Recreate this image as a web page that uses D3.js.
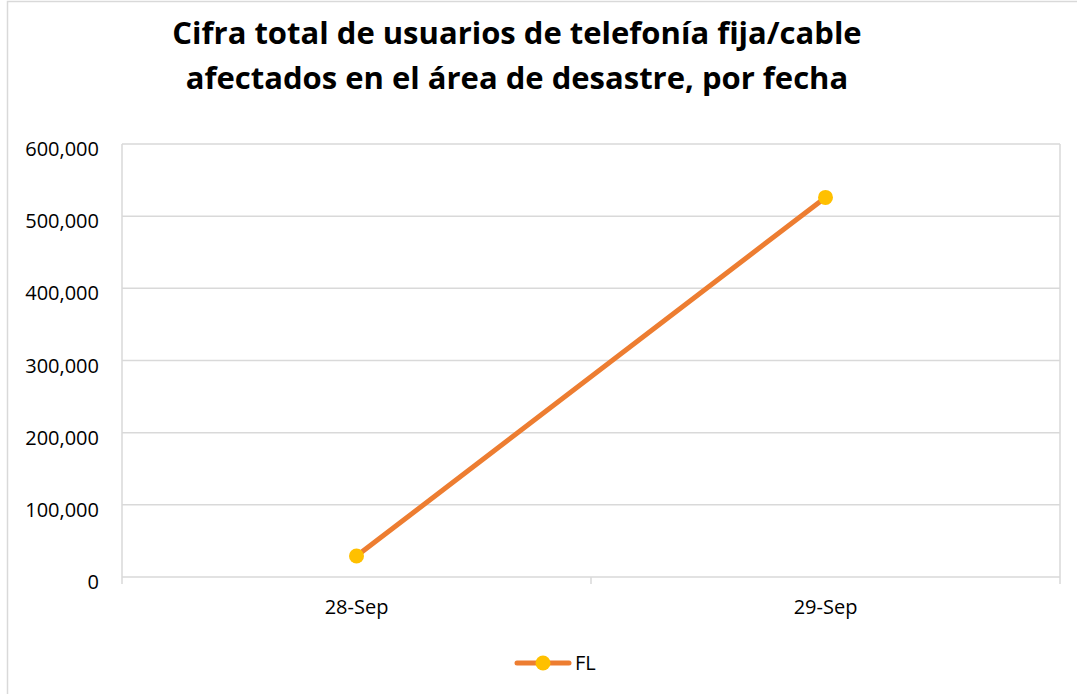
<!DOCTYPE html>
<html>
<head>
<meta charset="utf-8">
<script src="https://cdn.jsdelivr.net/npm/d3@7"></script>
<style>
  body { margin: 0; background: #fff; }
  text { font-family: "Open Sans", sans-serif; fill: #000; }
</style>
</head>
<body>
<div id="chart"></div>
<script>
const titleLines = ["Cifra total de usuarios de telefonía fija/cable", "afectados en el área de desastre, por fecha"];
const dates = ["28-Sep", "29-Sep"];
const flValues = [29000, 526000];
const yTicks = [0, 100000, 200000, 300000, 400000, 500000, 600000];
const seriesName = "FL";

const width = 1077, height = 694;
const margin = { top: 144, right: 17, bottom: 117, left: 122 };
const gridColor = "#d9d9d9";

const svg = d3.select("#chart").append("svg")
  .attr("width", width)
  .attr("height", height);

// outer chart border
svg.append("rect")
  .attr("x", 7.5).attr("y", 1.5)
  .attr("width", width).attr("height", height)
  .attr("fill", "none")
  .attr("stroke", gridColor)
  .attr("stroke-width", 1.5);

const x = d3.scaleBand()
  .domain(dates)
  .range([margin.left, width - margin.right]);

const y = d3.scaleLinear()
  .domain([0, 600000])
  .range([height - margin.bottom, margin.top]);

// title
const title = svg.append("g");
titleLines.forEach((line, i) => {
  title.append("text")
    .attr("x", 517)
    .attr("y", 44 + i * 45)
    .attr("text-anchor", "middle")
    .attr("font-weight", "bold")
    .attr("font-size", 31)
    .text(line);
});

// gridlines
svg.append("g")
  .selectAll("line")
  .data(yTicks)
  .join("line")
  .attr("x1", margin.left)
  .attr("x2", width - margin.right)
  .attr("y1", d => y(d))
  .attr("y2", d => y(d))
  .attr("stroke", gridColor)
  .attr("stroke-width", 1.5);

// plot area side borders
[margin.left, width - margin.right].forEach(xx => {
  svg.append("line")
    .attr("x1", xx).attr("x2", xx)
    .attr("y1", margin.top).attr("y2", height - margin.bottom)
    .attr("stroke", gridColor)
    .attr("stroke-width", 1.5);
});

// x tick marks at band boundaries
const bounds = dates.map(d => x(d)).concat([x(dates[dates.length - 1]) + x.bandwidth()]);
svg.append("g")
  .selectAll("line")
  .data(bounds)
  .join("line")
  .attr("x1", d => d).attr("x2", d => d)
  .attr("y1", y(0)).attr("y2", y(0) + 7)
  .attr("stroke", gridColor)
  .attr("stroke-width", 1.5);

// y labels
const fmt = d3.format(",");
svg.append("g")
  .selectAll("text")
  .data(yTicks)
  .join("text")
  .attr("x", 99)
  .attr("y", d => y(d) + 12)
  .attr("text-anchor", "end")
  .attr("font-size", 20)
  .text(d => fmt(d));

// x labels
svg.append("g")
  .selectAll("text")
  .data(dates)
  .join("text")
  .attr("x", d => x(d) + x.bandwidth() / 2)
  .attr("y", 614)
  .attr("text-anchor", "middle")
  .attr("font-size", 20)
  .text(d => d);

// series
const pts = dates.map((d, i) => ({ d, v: flValues[i] }));
const line = d3.line()
  .x(p => x(p.d) + x.bandwidth() / 2)
  .y(p => y(p.v));

svg.append("path")
  .datum(pts)
  .attr("d", line)
  .attr("fill", "none")
  .attr("stroke", "#ED7D31")
  .attr("stroke-width", 5)
  .attr("stroke-linecap", "round");

svg.append("g")
  .selectAll("circle")
  .data(pts)
  .join("circle")
  .attr("cx", p => x(p.d) + x.bandwidth() / 2)
  .attr("cy", p => y(p.v))
  .attr("r", 7.5)
  .attr("fill", "#FFC000");

// legend
const lg = svg.append("g").attr("transform", "translate(517,663)");
lg.append("line")
  .attr("x1", 0).attr("x2", 52)
  .attr("stroke", "#ED7D31")
  .attr("stroke-width", 5)
  .attr("stroke-linecap", "round");
lg.append("circle").attr("cx", 26).attr("r", 7.5).attr("fill", "#FFC000");
lg.append("text")
  .attr("x", 58).attr("y", 7)
  .attr("font-size", 20)
  .text(seriesName);
</script>
</body>
</html>
